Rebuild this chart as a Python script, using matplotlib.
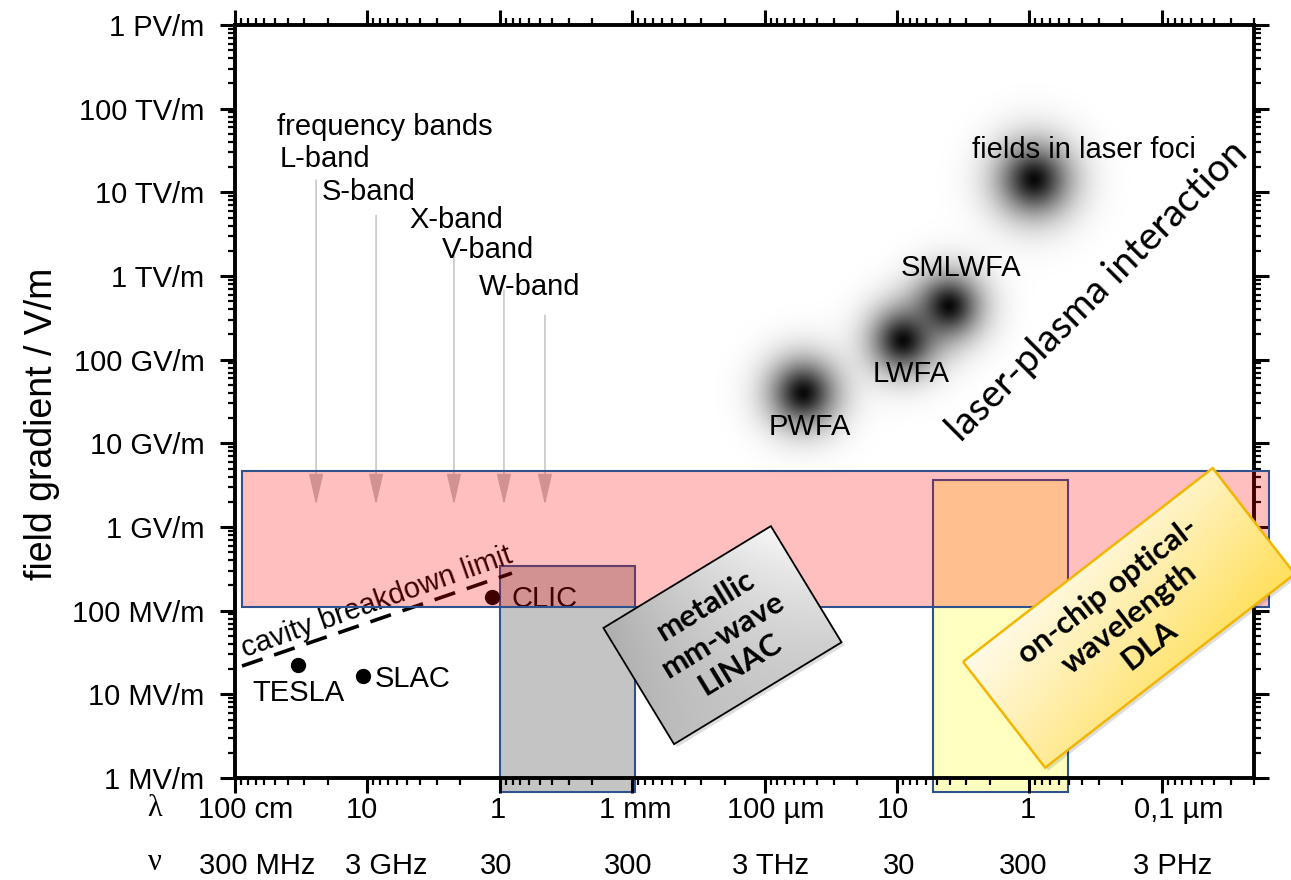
import numpy as np
import matplotlib
matplotlib.use("Agg")
import matplotlib.pyplot as plt
from matplotlib.patches import Rectangle, Polygon
from matplotlib.ticker import LogLocator, NullFormatter
from matplotlib.transforms import ScaledTranslation, blended_transform_factory
from matplotlib.colors import to_rgb

plt.rcParams['font.family'] = ['Liberation Sans', 'DejaVu Sans']

# ---- data (wavelength in m, field in V/m) ----
lam_ticks = [1, 1e-1, 1e-2, 1e-3, 1e-4, 1e-5, 1e-6, 1e-7]
lam_labels = ['100 cm', '10', '1', '1 mm', '100 µm', '10', '1', '0,1 µm']
nu_labels = ['300 MHz', '3 GHz', '30', '300', '3 THz', '30', '300', '3 PHz']
field_ticks = [1e6, 1e7, 1e8, 1e9, 1e10, 1e11, 1e12, 1e13, 1e14, 1e15]
field_labels = ['1 MV/m', '10 MV/m', '100 MV/m', '1 GV/m', '10 GV/m',
                '100 GV/m', '1 TV/m', '10 TV/m', '100 TV/m', '1 PV/m']

accel_names = ['TESLA', 'SLAC', 'CLIC']
accel_lambda = [0.334, 0.108, 0.0115]
accel_field = [2.24e7, 1.66e7, 1.45e8]

plasma_names = ['PWFA', 'LWFA', 'SMLWFA', 'fields in laser foci']
plasma_lambda = [5.1e-5, 9.0e-6, 4.05e-6, 9.2e-7]
plasma_field = [4.0e10, 1.7e11, 4.4e11, 1.43e13]

band_names = ['L-band', 'S-band', 'X-band', 'V-band', 'W-band']
band_lambda = [0.244, 0.086, 0.0222, 9.3e-3, 4.56e-3]
band_arrow_top = [1.4e13, 5.3e12, 1.77e12, 6.8e11, 3.4e11]
band_arrow_tip = 1.83e9

breakdown_lambda = [0.885, 8.1e-3]
breakdown_field = [2.18e7, 2.81e8]

# regions: (lambda_long, lambda_short, field_low, field_high)
target_band = (0.885, 1.55e-8, 1.10e8, 4.65e9)
mmwave_box = (1e-2, 9.5e-4, 6.8e5, 3.4e8)
dla_box = (5.35e-6, 5.1e-7, 6.8e5, 3.63e9)

# ---- figure ----
W, H = 1291, 880
fig = plt.figure(figsize=(W / 100, H / 100), dpi=100)
ax = fig.add_axes([235 / W, 102 / H, 1019.3 / W, 753 / H], zorder=1)
ax.patch.set_alpha(0)
ax.set_xscale('log')
ax.set_yscale('log')
ax.set_xlim(1, 2e-8)
ax.set_ylim(1e6, 1e15)

ax.set_xticks(lam_ticks, lam_labels)
ax.set_yticks(field_ticks, field_labels)
for axis in (ax.xaxis, ax.yaxis):
    axis.set_minor_locator(LogLocator(base=10, subs=np.arange(2, 10), numticks=100))
    axis.set_minor_formatter(NullFormatter())
ax.tick_params(which='major', direction='out', length=11, width=2.2,
               top=True, right=True, labelsize=21)
ax.tick_params(which='minor', direction='out', length=5, width=1.6,
               top=True, right=True)
ax.tick_params(axis='y', which='major', pad=11)
ax.tick_params(axis='x', which='major', pad=2)
for s in ax.spines.values():
    s.set_linewidth(2.8)

lam_off = [11, -6, -2, 3, 11, -4, -2, 17]
for lbl, dx in zip(ax.get_xticklabels(), lam_off):
    lbl.set_transform(lbl.get_transform() + ScaledTranslation(dx / 100, 0, fig.dpi_scale_trans))

bt = blended_transform_factory(ax.transData, ax.transAxes)
nu_off = [22, 19, -4, -4, 6, 2, -6, 11]
for lam, lab, dx in zip(lam_ticks, nu_labels, nu_off):
    ax.text(lam, -0.117, lab, transform=bt + ScaledTranslation(dx / 100, 0, fig.dpi_scale_trans),
            ha='center', va='center', fontsize=21)

fig.text(155 / W, 1 - 808 / H, 'λ', family=['Liberation Serif', 'DejaVu Serif'], fontsize=22,
         ha='center', va='center')
fig.text(155 / W, 1 - 862 / H, 'ν', family=['Liberation Serif', 'DejaVu Serif'], fontsize=22,
         ha='center', va='center')

ax.set_ylabel('field gradient / V/m', fontsize=27)
ax.yaxis.set_label_coords(-0.172, 0.47)

# regions
def region(r, **kw):
    x0, x1 = min(r[0], r[1]), max(r[0], r[1])
    ax.add_patch(Rectangle((x0, r[2]), x1 - x0, r[3] - r[2], clip_on=False, **kw))

region(mmwave_box, facecolor='#C4C4C4', edgecolor='#2F528F', lw=1.5, zorder=1)
region(dla_box, facecolor='#FFFFC0', edgecolor='#2F528F', lw=1.5, zorder=1)
region(target_band, facecolor=(1, 0, 0, 0.25), edgecolor='#2F528F', lw=1.5, zorder=4)

# frequency band arrows
for lam, top in zip(band_lambda, band_arrow_top):
    ax.annotate('', xy=(lam, band_arrow_tip), xytext=(lam, top),
                arrowprops=dict(arrowstyle='-|>,head_length=1.3,head_width=0.3',
                                color='#C4C4C4', lw=1.1, shrinkA=0, shrinkB=0,
                                mutation_scale=15), zorder=2)

ax.text(0.482, 4.81e13, 'frequency bands', fontsize=21, va='baseline', zorder=3)
band_text_pos = [(0.457, 2.0e13), (0.220, 8.05e12), (0.0485, 3.73e12),
                 (0.0273, 1.63e12), (0.01436, 5.9e11)]
for name, (x, y) in zip(band_names, band_text_pos):
    ax.text(x, y, name, fontsize=21, va='baseline', zorder=3)

# cavity breakdown limit
ax.plot(breakdown_lambda, breakdown_field, ls=(0, (6, 3.4)), color='black',
        lw=2.6, zorder=3, clip_on=False)
ax.text(0.0817, 1.03e8, 'cavity breakdown limit', fontsize=21, rotation=19.5,
        rotation_mode='anchor', ha='center', va='baseline', zorder=3)

# conventional accelerators
ax.scatter(accel_lambda, accel_field, s=100, color='black', zorder=3)
ax.text(0.334, 8.3e6, 'TESLA', fontsize=21, ha='center', va='baseline', zorder=3)
ax.text(0.0876, 1.22e7, 'SLAC', fontsize=21, ha='left', va='baseline', zorder=3)
ax.text(8.2e-3, 1.10e8, 'CLIC', fontsize=21, ha='left', va='baseline', zorder=3)

plasma_text_pos = [(4.54e-5, 1.25e10), (7.8e-6, 5.4e10), (3.29e-6, 9.95e11), (3.87e-7, 2.56e13)]
for name, (x, y) in zip(plasma_names, plasma_text_pos):
    ax.text(x, y, name, fontsize=21, ha='center', va='baseline', zorder=3)

ax.text(3.08e-7, 6.6e11, 'laser-plasma interaction', fontsize=28, rotation=45,
        rotation_mode='anchor', ha='center', va='center', family=['Lato', 'DejaVu Sans'],
        zorder=6, clip_on=False)

# ---- soft glows for the plasma / laser points (background layer) ----
bg = fig.add_axes([0, 0, 1, 1], zorder=0)
bg.axis('off')
gx, gy = np.meshgrid(np.arange(W) + 0.5, np.arange(H) + 0.5)
transparency = np.ones((H, W))
for (px, py), sg in zip(ax.transData.transform(np.column_stack([plasma_lambda, plasma_field])),
                        [23, 22, 22, 25]):
    r2 = ((gx - px) ** 2 + (gy - py) ** 2) / (2 * sg ** 2)
    a = 0.97 * np.exp(-r2 ** 0.85)
    transparency *= 1 - a
glow = np.zeros((H, W, 4))
glow[..., 3] = 1 - transparency
bg.imshow(glow, extent=[0, W, 0, H], origin='lower', aspect='auto', interpolation='bilinear')
bg.set_xlim(0, W)
bg.set_ylim(0, H)

# ---- rotated callout boxes (pixel overlay) ----
ov = fig.add_axes([0, 0, 1, 1], zorder=5)
ov.axis('off')


def callout(center, size, angle, colors, edge, elw, text, fontsize):
    c = ax.transData.transform(center)
    L, S = size
    th = np.deg2rad(angle)
    u = np.array([np.cos(th), np.sin(th)])
    v = np.array([np.sin(th), -np.cos(th)])
    p00 = c - u * L / 2 - v * S / 2
    corners = np.array([p00, p00 + u * L, p00 + u * L + v * S, p00 + v * S])
    ov.add_patch(Polygon(corners + np.array([3, -3]), closed=True, fc='black',
                         alpha=0.13, lw=0, zorder=1))
    x0, y0 = corners.min(axis=0)
    x1, y1 = corners.max(axis=0)
    xs = np.arange(np.floor(x0), np.ceil(x1) + 1)
    ys = np.arange(np.floor(y0), np.ceil(y1) + 1)
    X, Y = np.meshgrid(xs, ys)
    s = np.clip(((X - p00[0]) * u[0] + (Y - p00[1]) * u[1]) / L, 0, 1)[..., None]
    t = np.clip(((X - p00[0]) * v[0] + (Y - p00[1]) * v[1]) / S, 0, 1)[..., None]
    c00, c10, c11, c01 = [np.array(to_rgb(col)) for col in colors]
    img = c00 * (1 - s) * (1 - t) + c10 * s * (1 - t) + c11 * s * t + c01 * (1 - s) * t
    im = ov.imshow(img, extent=[xs[0], xs[-1], ys[0], ys[-1]], origin='lower',
                   aspect='auto', interpolation='bilinear', zorder=2)
    poly = Polygon(corners, closed=True, fc='none', ec=edge, lw=elw, zorder=3)
    ov.add_patch(poly)
    im.set_clip_path(poly)
    ov.text(c[0], c[1], text, rotation=angle, rotation_mode='anchor', ha='center',
            va='center', multialignment='center', fontsize=fontsize, fontweight='bold',
            family=['Lato', 'DejaVu Sans'], linespacing=1.25, zorder=4)


callout((2.08e-4, 5.1e7), (196, 136), 31.3,
        ['#ADADAD', '#F7F7F7', '#D0D0D0', '#BDBDBD'], 'black', 1.3,
        'metallic\nmm-wave\nLINAC', 22.5)
callout((1.77e-7, 8.2e7), (316, 134), 37.8,
        ['#FFFBEA', '#FFF3C2', '#FFDF5A', '#FFEA94'], '#F2B600', 1.8,
        'on-chip optical-\nwavelength\nDLA', 22.5)

ov.set_xlim(0, W)
ov.set_ylim(0, H)

fig.savefig('out.png', dpi=100)
